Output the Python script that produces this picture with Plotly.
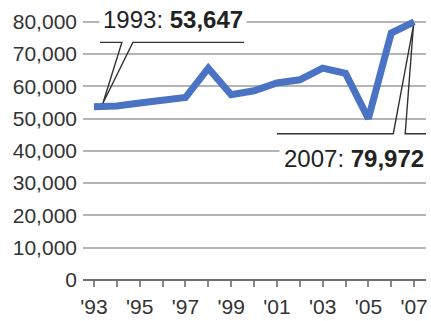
import plotly.graph_objects as go

years = list(range(1993, 2008))
values = [53647, 53900, 54800, 55700, 56500, 65600, 57400, 58600,
          61000, 62000, 65600, 64000, 50000, 76500, 79972]
y_ticks = [0, 10000, 20000, 30000, 40000, 50000, 60000, 70000, 80000]
x_ticktext = ["'93", "", "'95", "", "'97", "", "'99", "", "'01", "",
              "'03", "", "'05", "", "'07"]

FONT = "Liberation Sans, Arial, sans-serif"
LINE_BLUE = "#4b73c3"

fig = go.Figure()
fig.add_trace(go.Scatter(
    x=years, y=values, mode="lines",
    line=dict(color=LINE_BLUE, width=7),
    hoverinfo="skip", showlegend=False,
))

x0, y0 = years[0], values[0]
x1, y1 = years[-1], values[-1]

# callout for first point
elb1 = 73600
path1 = (f"M {x0+0.26},{elb1} L {x0+1.22},{elb1} L {x0+0.39},{y0+1100} "
         f"L {x0+1.70},{elb1} L {x0+6.57},{elb1}")
# callout for last point
elb2 = 45300
path2 = (f"M {x1-6.0},{elb2} L {x1-0.91},{elb2} L {x1-0.03},{y1-1200} "
         f"L {x1-0.39},{elb2} L {x1+0.55},{elb2}")
for p in (path1, path2):
    fig.add_shape(type="path", path=p, xref="x", yref="y",
                  line=dict(color="#333333", width=1.4), layer="above")

fig.add_annotation(
    x=x0 + 3.46, y=80600, xref="x", yref="y",
    text=f"{x0}: <b>{y0:,}</b>", showarrow=False,
    xanchor="center", yanchor="middle",
    font=dict(family=FONT, size=24, color="#222222"),
    bgcolor="white", borderpad=3,
)
fig.add_annotation(
    x=x1 - 2.61, y=37700, xref="x", yref="y",
    text=f"{x1}: <b>{y1:,}</b>", showarrow=False,
    xanchor="center", yanchor="middle",
    font=dict(family=FONT, size=24, color="#222222"),
    bgcolor="white", borderpad=4,
)

fig.update_layout(
    width=431, height=321,
    margin=dict(l=83, r=3, t=5, b=36),
    paper_bgcolor="white", plot_bgcolor="white",
    font=dict(family=FONT, size=21, color="#333333"),
    showlegend=False,
)
fig.update_xaxes(
    range=[1992.52, 2007.52],
    tickmode="array", tickvals=years, ticktext=x_ticktext,
    ticks="outside", ticklen=6, tickwidth=1.5, tickcolor="#888888",
    showgrid=False, zeroline=False, showline=False,
    ticklabelstandoff=2,
    tickfont=dict(family=FONT, size=21, color="#333333"),
    fixedrange=True,
)
fig.update_yaxes(
    range=[0, 85171],
    tickmode="array", tickvals=y_ticks, tickformat=",",
    showgrid=True, gridcolor="#b5b5b5", gridwidth=1.6,
    zeroline=True, zerolinecolor="#6e6e6e", zerolinewidth=2.2,
    showline=False, ticks="", ticklabelstandoff=5,
    tickfont=dict(family=FONT, size=21, color="#333333"),
    fixedrange=True,
)

fig.write_html("out.html", config={"displayModeBar": False})
